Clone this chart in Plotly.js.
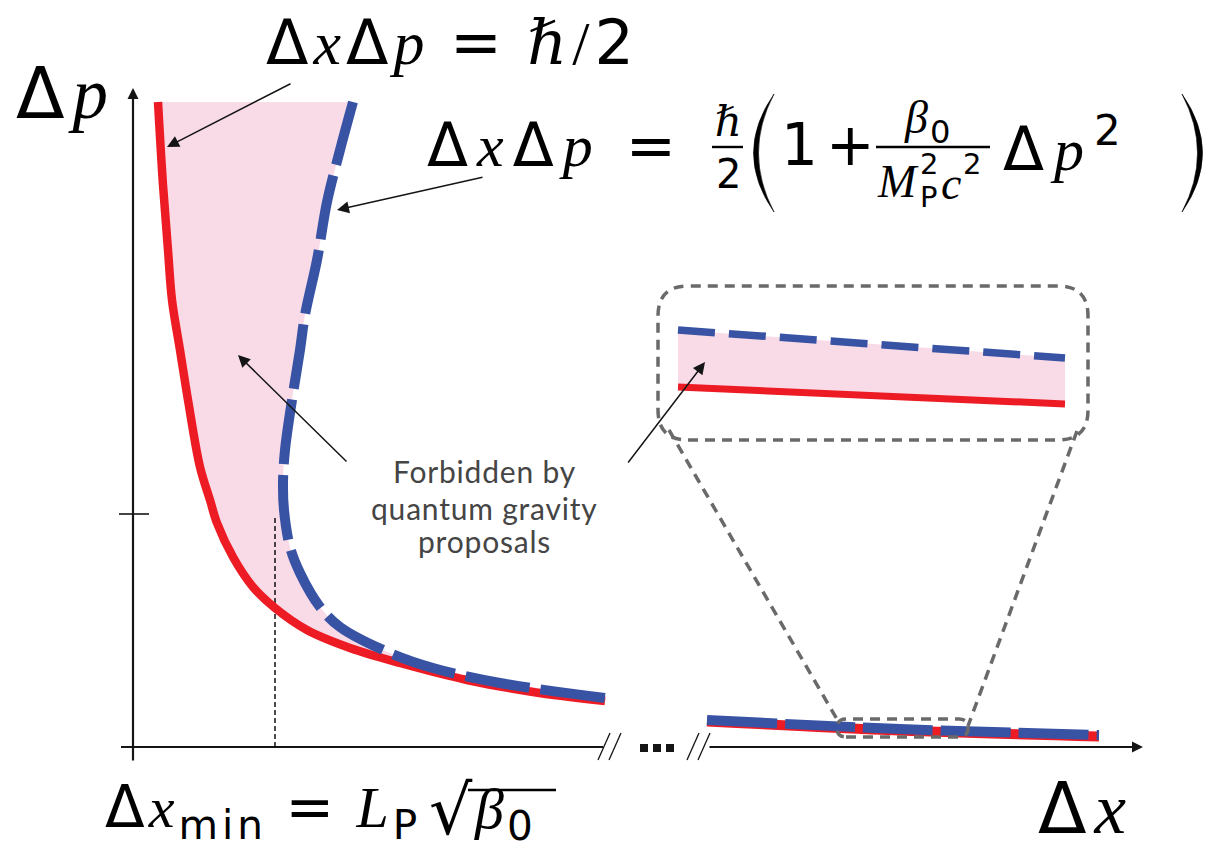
<!DOCTYPE html>
<html>
<head>
<meta charset="utf-8">
<script src="https://cdn.plot.ly/plotly-3.0.1.min.js"></script>
<style>
  html, body { margin: 0; padding: 0; background: #ffffff; }
  #chart { width: 1219px; height: 849px; }
</style>
</head>
<body>
<div id="chart"></div>
<script>
// Δx and Δp in plot units, origin at the corner of the axes.
// Heisenberg bound: ΔxΔp = ħ/2
const heisenbergDx = [0.25, 0.30, 0.35, 0.39, 0.47, 0.55, 0.67, 0.77, 0.84, 1.00, 1.20, 1.42, 1.74, 2.17, 2.67, 3.34, 4.00, 4.72];
const heisenbergDp = [6.45, 5.62, 4.97, 4.47, 3.97, 3.47, 2.80, 2.47, 2.24, 1.90, 1.60, 1.39, 1.17, 0.99, 0.84, 0.67, 0.55, 0.46];
// Generalised uncertainty principle: ΔxΔp = ħ/2 (1 + β0 Δp² / (M_P² c²))
const gupDx = [2.20, 2.07, 1.94, 1.84, 1.72, 1.67, 1.59, 1.52, 1.50, 1.51, 1.57, 1.67, 1.87, 2.07, 2.57, 3.00, 3.67, 4.72];
const gupDp = [6.45, 5.97, 5.45, 4.87, 4.32, 3.97, 3.47, 2.97, 2.64, 2.37, 2.00, 1.74, 1.40, 1.20, 0.94, 0.79, 0.64, 0.49];
// Far segment of both curves, beyond the axis break
const farDx = [5.74, 7.67, 9.66];
const farHeisenbergDp = [0.255, 0.165, 0.105];
const farGupDp = [0.27, 0.18, 0.12];
// Magnified view of part of the far segment
const zoomDx = [5.45, 9.32];
const zoomHeisenbergDp = [3.60, 3.43];
const zoomGupDp = [4.17, 3.89];
// Minimum length and its Δp level
const dxMin = 1.42;
const dpAtMin = 2.33;

// Colours and fonts
const RED = '#ed1c24';
const BLUE = '#3953a4';
const PINK = '#f9dbe7';
const GREY = '#6a6a6a';
const INK = '#151515';
const SERIF = "'Liberation Serif', serif";

// Layout helpers: page pixel -> plot units (100 px per unit)
const X = px => (px - 133) / 100;
const Y = py => (747 - py) / 100;

const D = s => `<span style="font-family:'DejaVu Sans'">${s}</span>`;
const I = s => `<i>${s}</i>`;
const SP = (s, ls) => `<span style="letter-spacing:${ls}px">${s}</span>`;
const HBAR = `<span style="font-family:'DejaVu Serif'"><i>ℏ</i></span>`;

const traces = [];
const line = (x, y, color, width, extra) => ({
  x, y, mode: 'lines', hoverinfo: 'skip',
  line: Object.assign({ color, width }, extra || {})
});

// forbidden region between the two curves
traces.push({
  x: heisenbergDx.concat(gupDx.slice().reverse()),
  y: heisenbergDp.concat(gupDp.slice().reverse()),
  mode: 'lines', fill: 'toself', fillcolor: PINK,
  line: { width: 0, shape: 'spline' }, hoverinfo: 'skip'
});
traces.push({
  x: zoomDx.concat(zoomDx.slice().reverse()),
  y: zoomHeisenbergDp.concat(zoomGupDp.slice().reverse()),
  mode: 'lines', fill: 'toself', fillcolor: PINK,
  line: { width: 0 }, hoverinfo: 'skip'
});

// axes
traces.push(line([X(121), X(603)], [0, 0], INK, 2.2));
traces.push(line([X(119), X(149)], [dpAtMin, dpAtMin], INK, 1.6));
traces.push(line([dxMin, dxMin], [0, dpAtMin - 0.04], '#000', 1.4, { dash: '5px,3px' }));
// axis break marks
[[598, 610], [609, 621], [687, 699], [698, 710]].forEach(([a, b]) => {
  traces.push(line([X(a), X(b)], [Y(760), Y(733)], INK, 1.3));
});
traces.push({
  x: [X(644), X(657), X(670)], y: [Y(748), Y(748), Y(748)],
  mode: 'markers', marker: { symbol: 'square', size: 8, color: INK }, hoverinfo: 'skip'
});

// curves
traces.push(line(heisenbergDx, heisenbergDp, RED, 8.5, { shape: 'spline' }));
traces.push(line(gupDx, gupDp, BLUE, 10, { shape: 'spline', dash: '65px,11px' }));
traces.push(line(farDx, farHeisenbergDp, RED, 10, { shape: 'spline' }));
traces.push(line(farDx, farGupDp, BLUE, 10, { shape: 'spline', dash: '70px,8px' }));
traces.push(line(zoomDx, zoomHeisenbergDp, RED, 7));
traces.push(line(zoomDx, zoomGupDp, BLUE, 7.5, { dash: '37px,14px' }));

// rounded dashed boxes of the magnifier
function roundedRect(x0, y0, x1, y1, r) {
  return `M ${x0 + r},${y0} L ${x1 - r},${y0} Q ${x1},${y0} ${x1},${y0 + r} ` +
    `L ${x1},${y1 - r} Q ${x1},${y1} ${x1 - r},${y1} L ${x0 + r},${y1} ` +
    `Q ${x0},${y1} ${x0},${y1 - r} L ${x0},${y0 + r} Q ${x0},${y0} ${x0 + r},${y0} Z`;
}
// thin crescent used for the large parentheses
function paren(xTip, xBulgeOuter, xBulgeInner, yTop, yBottom) {
  const ym = (yTop + yBottom) / 2;
  return `M ${X(xTip)},${Y(yTop)} Q ${X(xBulgeOuter)},${Y(ym)} ${X(xTip)},${Y(yBottom)} ` +
    `Q ${X(xBulgeInner)},${Y(ym)} ${X(xTip)},${Y(yTop)} Z`;
}
const dashed = { color: GREY, width: 3.5, dash: '10px,7px' };
const bar = { color: '#000', width: 2.4 };
const shapes = [
  { type: 'path', xref: 'x', yref: 'y', path: roundedRect(X(658), Y(440), X(1088), Y(286), 0.3), line: dashed },
  { type: 'path', xref: 'x', yref: 'y', path: roundedRect(X(837), Y(737), X(968), Y(719), 0.09), line: dashed },
  { type: 'line', xref: 'x', yref: 'y', x0: X(669), y0: Y(430), x1: X(838), y1: Y(721), line: dashed },
  { type: 'line', xref: 'x', yref: 'y', x0: X(1077), y0: Y(431), x1: X(968), y1: Y(726), line: dashed },
  // fraction bars, radical bar and parentheses
  { type: 'line', xref: 'x', yref: 'y', x0: X(712), y0: Y(147), x1: X(743), y1: Y(147), line: bar },
  { type: 'line', xref: 'x', yref: 'y', x0: X(876), y0: Y(147), x1: X(990), y1: Y(147), line: bar },
  { type: 'line', xref: 'x', yref: 'y', x0: X(468), y0: Y(790), x1: X(556), y1: Y(790), line: bar },
  { type: 'path', xref: 'x', yref: 'y', path: paren(774, 733, 743, 94, 212), fillcolor: '#000', line: { width: 0.6, color: '#000' } },
  { type: 'path', xref: 'x', yref: 'y', path: paren(1182, 1223, 1213, 94, 212), fillcolor: '#000', line: { width: 0.6, color: '#000' } }
];

// arrows
const arrow = (hx, hy, tx, ty, w) => ({
  x: X(hx), y: Y(hy), ax: X(tx), ay: Y(ty), xref: 'x', yref: 'y', axref: 'x', ayref: 'y',
  text: '', showarrow: true, arrowhead: 2, arrowsize: w ? 1 : 1.6, arrowwidth: w || 1.5,
  arrowcolor: INK, standoff: 0, startstandoff: 0
});
const annotations = [
  arrow(133, 88, 133, 762, 2.2),
  arrow(1143, 747, 708, 747, 2.2),
  arrow(167, 147, 292, 83),
  arrow(337, 210, 484, 177),
  arrow(238, 355, 348, 463),
  arrow(705, 362, 627, 464)
];

const label = (px, py, text, size, extra) => Object.assign({
  x: X(px), y: Y(py), xref: 'x', yref: 'y', text, showarrow: false,
  font: { family: SERIF, size, color: '#000' }, xanchor: 'center', yanchor: 'middle'
}, extra || {});

annotations.push(
  label(66, 93, SP(D('Δ') + I('p'), 8), 71),
  label(1086, 808, SP(D('Δ') + I('x'), 8), 71),
  label(452, 42, SP(D('Δ') + I('x') + D('Δ') + I('p') + ' ' + D('=') + ' ' + HBAR + '/' + D('2'), 5), 62),
  // Δx_min = L_P √β0
  label(103, 811, SP(D('Δ') + I('x') + '<sub>' + D('min') + '</sub> ' + D('=') + ' ' + I('L') + '<sub>' + D('P') + '</sub>', 4), 58, { xanchor: 'left' }),
  label(451, 810, D('√'), 68),
  label(472, 813, SP(I('β') + '<sub>' + D('0') + '</sub>', 3), 58, { xanchor: 'left' }),
  // generalised relation, built piece by piece
  label(425, 145, SP(D('Δ') + I('x') + D('Δ') + I('p') + ' ' + D('='), 9), 60, { xanchor: 'left' }),
  label(728, 121, HBAR, 42),
  label(728, 174, D('2'), 40),
  label(779, 145, SP(D('1') + D('+'), 8), 58, { xanchor: 'left' }),
  label(928, 121, SP(I('β') + '<sub>' + D('0') + '</sub>', 2), 46),
  label(898, 181, I('M'), 46),
  label(929, 164, D('2'), 29),
  label(929, 197, D('P'), 29),
  label(951, 183, I('c'), 46),
  label(972, 164, D('2'), 29),
  label(1001, 145, SP(D('Δ') + I('p') + '<sup>' + D('2') + '</sup>', 10), 60, { xanchor: 'left' })
);

// caption for the shaded region
const captionFont = { family: 'Lato, sans-serif', size: 30, color: '#454545' };
[['Forbidden by', 471], ['quantum gravity', 508], ['proposals', 541]].forEach(([t, py]) => {
  annotations.push(label(484, py, SP(t, 0.8), 30, { font: captionFont }));
});

const layout = {
  width: 1219, height: 849,
  margin: { l: 0, r: 0, t: 0, b: 0 },
  paper_bgcolor: '#ffffff', plot_bgcolor: '#ffffff',
  showlegend: false,
  xaxis: { range: [X(0), X(1219)], visible: false, fixedrange: true },
  yaxis: { range: [Y(849), Y(0)], visible: false, fixedrange: true },
  shapes, annotations
};

Plotly.newPlot('chart', traces, layout, { staticPlot: true, displayModeBar: false });
</script>
</body>
</html>
